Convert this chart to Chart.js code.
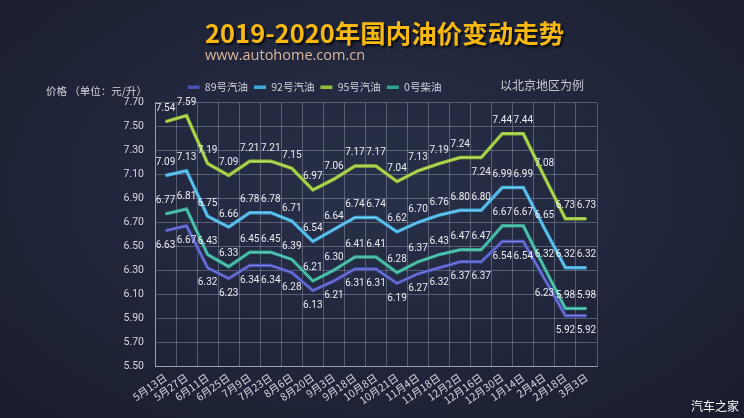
<!DOCTYPE html>
<html>
<head>
<meta charset="utf-8">
<script src="https://cdn.jsdelivr.net/npm/chart.js@4.4.1/dist/chart.umd.min.js"></script>
<style>
  html,body{margin:0;padding:0;}
  body{width:744px;height:418px;overflow:hidden;position:relative;
    background:radial-gradient(ellipse at 50% 45%, #283049 0%, #20253a 55%, #1a1d2e 100%);
    font-family:'Open Sans','Noto Sans CJK SC',sans-serif;}
  #wrap{position:absolute;left:0;top:0;width:744px;height:418px;}
  .t{position:absolute;white-space:nowrap;}
  #title{left:205px;top:15px;font-family:'Noto Sans CJK SC',sans-serif;font-weight:700;font-size:25.5px;color:#f6b811;
    text-shadow:2px 2px 2px rgba(0,0,0,0.7);line-height:34px;}
  #sub{left:205px;top:46px;font-size:14.5px;color:#dcb69b;line-height:18px;}
  #ylab{left:46px;top:84px;font-size:10.5px;color:#d4d4dc;font-family:'Noto Sans CJK SC',sans-serif;line-height:14px;}
  #note{left:500px;top:77px;font-size:12px;color:#c8c8d2;font-family:'Noto Sans CJK SC',sans-serif;line-height:16px;}
  #wm{left:691px;top:398px;font-size:12px;color:#ffffff;font-family:'Noto Sans CJK SC',sans-serif;line-height:16px;}
</style>
</head>
<body>
<div id="wrap"><canvas id="c" width="744" height="418"></canvas></div>
<div class="t" id="title">2019-2020年国内油价变动走势</div>
<div class="t" id="sub">www.autohome.com.cn</div>
<div class="t" id="ylab">价格 （单位：元/升）</div>
<div class="t" id="note">以北京地区为例</div>
<div class="t" id="wm">汽车之家</div>
<script>
const categories = ['5月13日','5月27日','6月11日','6月25日','7月9日','7月23日','8月6日','8月20日','9月3日','9月18日','10月8日','10月21日','11月4日','11月18日','12月2日','12月16日','12月30日','1月14日','2月4日','2月18日','3月3日'];
const seriesNames = ['89号汽油','92号汽油','95号汽油','0号柴油'];
const gas89 = [6.63,6.67,6.32,6.23,6.34,6.34,6.28,6.13,6.21,6.31,6.31,6.19,6.27,6.32,6.37,6.37,6.54,6.54,6.23,5.92,5.92];
const gas92 = [7.09,7.13,6.75,6.66,6.78,6.78,6.71,6.54,6.64,6.74,6.74,6.62,6.70,6.76,6.80,6.80,6.99,6.99,6.65,6.32,6.32];
const gas95 = [7.54,7.59,7.19,7.09,7.21,7.21,7.15,6.97,7.06,7.17,7.17,7.04,7.13,7.19,7.24,7.24,7.44,7.44,7.08,6.73,6.73];
const diesel0 = [6.77,6.81,6.43,6.33,6.45,6.45,6.39,6.21,6.30,6.41,6.41,6.28,6.37,6.43,6.47,6.47,6.67,6.67,6.32,5.98,5.98];
const yMin = 5.5, yMax = 7.7, yStep = 0.2;

const outerColors = ['#4b52b8','#3ea9dc','#92bf33','#2fa392'];
const innerColors = ['#9aa0f0','#a9e2f8','#dcf29a','#9fe8d8'];
const labelSide = ['below','above','above','above'];

const dataSets = [gas89, gas92, gas95, diesel0];

const innerLinePlugin = {
  id:'innerLine',
  afterDatasetDraw(chart, args){
    const meta = chart.getDatasetMeta(args.index);
    const pts = meta.data;
    const ctx = chart.ctx;
    ctx.save();
    ctx.beginPath();
    pts.forEach((p,i)=>{ if(i===0) ctx.moveTo(p.x,p.y); else ctx.lineTo(p.x,p.y); });
    ctx.strokeStyle = innerColors[args.index];
    ctx.lineWidth = 1;
    ctx.globalAlpha = 0.7;
    ctx.stroke();
    ctx.restore();
  }
};

const valueLabelPlugin = {
  id:'valueLabels',
  afterDatasetsDraw(chart){
    const ctx = chart.ctx;
    ctx.save();
    ctx.font = '10px Roboto,"Noto Sans",sans-serif';
    ctx.fillStyle = '#ececf2';
    ctx.textAlign = 'center';
    ctx.textBaseline = 'middle';
    chart.data.datasets.forEach((ds, di)=>{
      const meta = chart.getDatasetMeta(di);
      meta.data.forEach((p, i)=>{
        let side = labelSide[di];
        if (di === 2 && i === 15) side = 'below';
        const txt = ds.data[i].toFixed(2);
        if (side === 'above') ctx.fillText(txt, p.x, p.y - 13);
        else ctx.fillText(txt, p.x, p.y + 15);
      });
    });
    ctx.restore();
  }
};

new Chart(document.getElementById('c'), {
  type:'line',
  data:{
    labels: categories,
    datasets: dataSets.map((d,i)=>({
      label: seriesNames[i],
      data: d,
      borderColor: outerColors[i],
      backgroundColor: outerColors[i],
      borderWidth: 3.5,
      pointRadius: 0,
      pointHoverRadius: 0,
      tension: 0,
      fill: false
    }))
  },
  options:{
    responsive:false,
    animation:false,
    devicePixelRatio:1,
    layout:{padding:{left:32,right:147,top:76,bottom:11}},
    plugins:{
      legend:{
        position:'top',
        align:'center',
        labels:{
          usePointStyle:true,
          pointStyle:'line',
          pointStyleWidth:12,
          padding:6,
          color:'#d2d2dc',
          font:{size:10.5,family:'"Noto Sans CJK SC",sans-serif'}
        }
      },
      tooltip:{enabled:false},
      title:{display:false}
    },
    scales:{
      x:{
        type:'category',
        offset:true,
        grid:{offset:true,color:'rgba(200,205,225,0.32)',lineWidth:1,drawTicks:false},
        border:{color:'rgba(210,215,235,0.55)'},
        ticks:{color:'#d6d6e0',font:{size:10.5,family:'"Noto Sans CJK SC",sans-serif'},maxRotation:35,minRotation:35,autoSkip:false,padding:5},
        afterFit(s){ s.height = 41; }
      },
      y:{
        min:yMin,max:yMax,
        grid:{color:'rgba(200,205,225,0.32)',lineWidth:1,drawTicks:false},
        border:{color:'rgba(210,215,235,0.55)'},
        ticks:{stepSize:yStep,color:'#d6d6e0',padding:11,font:{size:10.5,family:'Roboto,sans-serif'},
          callback:(v)=>Number(v).toFixed(2)},
        afterFit(s){ s.width = 123; }
      }
    }
  },
  plugins:[innerLinePlugin, valueLabelPlugin]
});
</script>
</body>
</html>
